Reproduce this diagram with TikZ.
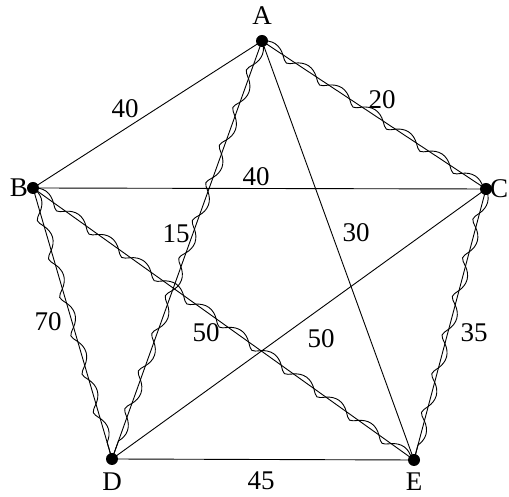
\documentclass[tikz,border=0pt]{standalone}
\usepackage{fontspec}
\setmainfont{Liberation Serif}
\usetikzlibrary{decorations.pathmorphing}
\begin{document}
\begin{tikzpicture}[x=1pt,y=1pt,
  vertex/.style={circle,fill=black,inner sep=0pt,minimum size=12pt},
  edge/.style={line width=0.9pt},
  coiled/.style={line width=0.9pt,decorate,decoration={coil,amplitude=5pt,segment length=40pt,aspect=0.5}},
  lbl/.style={font=\fontsize{27}{31}\selectfont,inner sep=0pt}]
\useasboundingbox (0,0) rectangle (509,497);
\node[vertex] (A) at (262,456) {};
\node[vertex] (B) at (33,309) {};
\node[vertex] (C) at (486,308) {};
\node[vertex] (D) at (112,38) {};
\node[vertex] (E) at (414,37) {};
\node[lbl] (lA) at (262,481) {A};
\node[lbl,anchor=east] (lB) at (28,309) {B};
\node[lbl,anchor=west] (lC) at (490,308) {C};
\node[lbl] (lD) at (112,15) {D};
\node[lbl] (lE) at (414,15) {E};
% plain edges
\draw[edge] (A.center) -- (B.center);
\draw[edge] (B.center) -- (C.center);
\draw[edge] (A.center) -- (E.center);
\draw[edge] (C.center) -- (D.center);
\draw[edge] (D.center) -- (E.center);
% coiled edges
\foreach \u/\v in {A/C, A/D, B/D, B/E, C/E}{
  \draw[edge] (\u.center) -- (\v.center);
  \draw[coiled] (\u.center) -- (\v.center);
}
\node[lbl] (w1) at (125,388) {40};
\node[lbl] (w2) at (382,397) {20};
\node[lbl] (w3) at (256,320) {40};
\node[lbl] (w4) at (356,264) {30};
\node[lbl] (w5) at (176,263) {15};
\node[lbl] (w6) at (48,175) {70};
\node[lbl] (w7) at (206,164) {50};
\node[lbl] (w8) at (321,158) {50};
\node[lbl] (w9) at (474,164) {35};
\node[lbl] (w10) at (261,16) {45};
\end{tikzpicture}
\end{document}
